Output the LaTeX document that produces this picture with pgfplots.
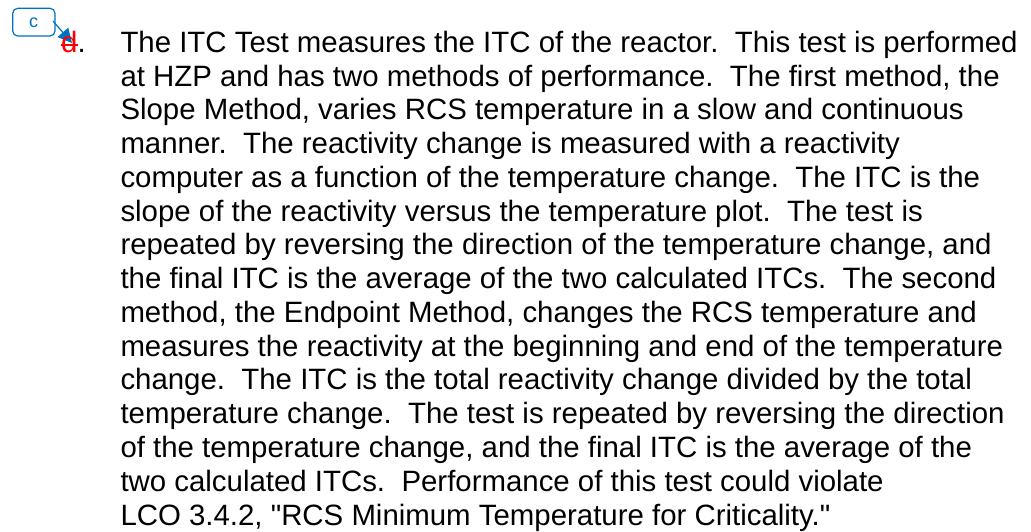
\documentclass[border=0pt]{standalone}
\usepackage{fontspec}
\setmainfont{Liberation Sans}[Ligatures=TeXOff]
\usepackage{pgfplots}
\pgfplotsset{compat=1.18}
\usetikzlibrary{arrows.meta}
\definecolor{cmtblue}{RGB}{0,112,192}
\tikzset{txt/.style={inner sep=0pt, outer sep=0pt, anchor=base west, font=\fontsize{14.7pt}{17pt}\selectfont}}

\begin{document}
\begin{tikzpicture}
\begin{axis}[
  hide axis, scale only axis,
  width=515.5pt, height=265.5pt,   % 1 px = 0.5 pt
  xmin=0, xmax=1031, ymin=0, ymax=531, y dir=reverse,
  clip=false]
\addplot[draw=none] coordinates {(0,0) (1031,531)};

% comment box and arrow
\draw[cmtblue, line width=0.6pt, rounded corners=2.5pt] (axis cs:12.7,8.3) rectangle (axis cs:55,36);
\node[inner sep=0pt, anchor=center, text=cmtblue, font=\fontsize{9pt}{10pt}\selectfont] at (axis cs:33.5,23) {c};
\draw[cmtblue, line width=0.6pt, -{Triangle[length=7pt, width=7pt]}] (axis cs:53,21) -- (axis cs:72,43);

% struck-out item letter
\node[txt, text=red] at (axis cs:61,52) {d};
\draw[red, line width=0.9pt] (axis cs:61,45) -- (axis cs:78,45);
\node[txt] at (axis cs:77.5,52) {.};

\node[txt] at (axis cs:120.5,52.3)  {The ITC Test measures the ITC of the reactor.\ \ This test is performed};
\node[txt] at (axis cs:120.5,86.1)  {at HZP and has two methods of performance.\ \ The first method, the};
\node[txt] at (axis cs:120.5,119.8) {Slope Method, varies RCS temperature in a slow and continuous};
\node[txt] at (axis cs:120.5,153.6) {manner.\ \ The reactivity change is measured with a reactivity};
\node[txt] at (axis cs:120.5,187.3) {computer as a function of the temperature change.\ \ The ITC is the};
\node[txt] at (axis cs:120.5,221.1) {slope of the reactivity versus the temperature plot.\ \ The test is};
\node[txt] at (axis cs:120.5,254.9) {repeated by reversing the direction of the temperature change, and};
\node[txt] at (axis cs:120.5,288.6) {the final ITC is the average of the two calculated ITCs.\ \ The second};
\node[txt] at (axis cs:120.5,322.4) {method, the Endpoint Method, changes the RCS temperature and};
\node[txt] at (axis cs:120.5,356.1) {measures the reactivity at the beginning and end of the temperature};
\node[txt] at (axis cs:120.5,389.9) {change.\ \ The ITC is the total reactivity change divided by the total};
\node[txt] at (axis cs:120.5,423.7) {temperature change.\ \ The test is repeated by reversing the direction};
\node[txt] at (axis cs:120.5,457.4) {of the temperature change, and the final ITC is the average of the};
\node[txt] at (axis cs:120.5,491.2) {two calculated ITCs.\ \ Performance of this test could violate};
\node[txt] at (axis cs:120.5,525.0) {LCO 3.4.2, "RCS Minimum Temperature for Criticality."};
\end{axis}
\end{tikzpicture}
\end{document}
